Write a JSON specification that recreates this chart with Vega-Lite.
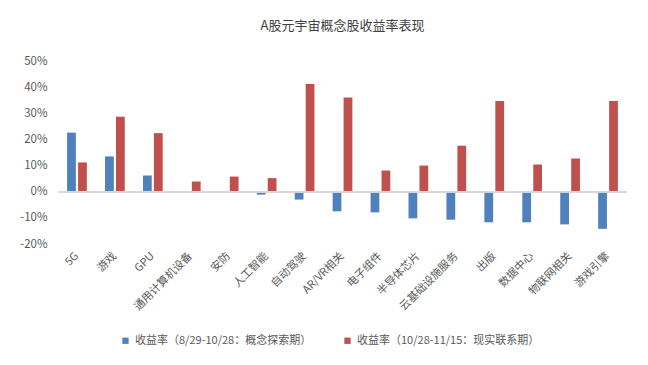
{
  "$schema": "https://vega.github.io/schema/vega-lite/v6.json",
  "autosize": {"type": "none"},
  "width": 569,
  "height": 183,
  "padding": {"left": 58, "top": 61, "right": 21, "bottom": 121},
  "background": "white",
  "title": {
    "text": "A股元宇宙概念股收益率表现",
    "font": "Noto Sans CJK SC",
    "fontSize": 13,
    "fontWeight": "normal",
    "color": "#404040",
    "offset": 22,
    "anchor": "middle"
  },
  "config": {
    "view": {"stroke": null},
    "font": "Noto Sans CJK SC",
    "axisY": {
      "domain": false, "ticks": false, "grid": false,
      "values": [-20, -10, 0, 10, 20, 30, 40, 50],
      "labelExpr": "datum.value + '%'",
      "labelOverlap": false, "labelFlush": false,
      "labelPadding": 11, "labelFontSize": 11.5, "labelColor": "#595959",
      "labelFont": "Noto Sans CJK SC", "title": null
    }
  },
  "data": {
    "values": [
      {"cat": "5G", "series": "收益率（8/29-10/28：概念探索期）", "value": 22.6},
      {"cat": "5G", "series": "收益率（10/28-11/15：现实联系期）", "value": 11.2},
      {"cat": "游戏", "series": "收益率（8/29-10/28：概念探索期）", "value": 13.5},
      {"cat": "游戏", "series": "收益率（10/28-11/15：现实联系期）", "value": 28.7},
      {"cat": "GPU", "series": "收益率（8/29-10/28：概念探索期）", "value": 6.2},
      {"cat": "GPU", "series": "收益率（10/28-11/15：现实联系期）", "value": 22.4},
      {"cat": "通用计算机设备", "series": "收益率（8/29-10/28：概念探索期）", "value": 0},
      {"cat": "通用计算机设备", "series": "收益率（10/28-11/15：现实联系期）", "value": 3.9},
      {"cat": "安防", "series": "收益率（8/29-10/28：概念探索期）", "value": 0},
      {"cat": "安防", "series": "收益率（10/28-11/15：现实联系期）", "value": 5.8},
      {"cat": "人工智能", "series": "收益率（8/29-10/28：概念探索期）", "value": -1.1},
      {"cat": "人工智能", "series": "收益率（10/28-11/15：现实联系期）", "value": 5.2},
      {"cat": "自动驾驶", "series": "收益率（8/29-10/28：概念探索期）", "value": -3.0},
      {"cat": "自动驾驶", "series": "收益率（10/28-11/15：现实联系期）", "value": 41.2},
      {"cat": "AR/VR相关", "series": "收益率（8/29-10/28：概念探索期）", "value": -7.5},
      {"cat": "AR/VR相关", "series": "收益率（10/28-11/15：现实联系期）", "value": 36.0},
      {"cat": "电子组件", "series": "收益率（8/29-10/28：概念探索期）", "value": -7.9},
      {"cat": "电子组件", "series": "收益率（10/28-11/15：现实联系期）", "value": 8.1},
      {"cat": "半导体芯片", "series": "收益率（8/29-10/28：概念探索期）", "value": -10.2},
      {"cat": "半导体芯片", "series": "收益率（10/28-11/15：现实联系期）", "value": 10.0},
      {"cat": "云基础设施服务", "series": "收益率（8/29-10/28：概念探索期）", "value": -10.7},
      {"cat": "云基础设施服务", "series": "收益率（10/28-11/15：现实联系期）", "value": 17.6},
      {"cat": "出版", "series": "收益率（8/29-10/28：概念探索期）", "value": -11.7},
      {"cat": "出版", "series": "收益率（10/28-11/15：现实联系期）", "value": 34.7},
      {"cat": "数据中心", "series": "收益率（8/29-10/28：概念探索期）", "value": -11.7},
      {"cat": "数据中心", "series": "收益率（10/28-11/15：现实联系期）", "value": 10.4},
      {"cat": "物联网相关", "series": "收益率（8/29-10/28：概念探索期）", "value": -12.5},
      {"cat": "物联网相关", "series": "收益率（10/28-11/15：现实联系期）", "value": 12.7},
      {"cat": "游戏引擎", "series": "收益率（8/29-10/28：概念探索期）", "value": -14.2},
      {"cat": "游戏引擎", "series": "收益率（10/28-11/15：现实联系期）", "value": 34.7}
    ]
  },
  "layer": [
    {
      "mark": {"type": "bar"},
      "encoding": {
        "x": {
          "field": "cat", "type": "nominal", "sort": null, "title": null,
          "scale": {"paddingInner": 0.48, "paddingOuter": 0.24},
          "axis": {
            "domain": false, "ticks": false, "grid": false,
            "labelAngle": -45, "labelAlign": "right", "labelBaseline": "middle",
            "labelPadding": 10, "labelFontSize": 11, "labelColor": "#595959",
            "labelFont": "Noto Sans CJK SC", "labelOverlap": false
          }
        },
        "xOffset": {
          "field": "series", "type": "nominal", "sort": null,
          "scale": {"paddingInner": 0.2}
        },
        "y": {
          "field": "value", "type": "quantitative", "title": null,
          "scale": {"domain": [-20, 50], "nice": false},
          "axis": {"values": [-20, -10, 0, 10, 20, 30, 40, 50], "labelOverlap": false}
        },
        "color": {
          "field": "series", "type": "nominal", "sort": null,
          "scale": {"range": ["#4F81BD", "#C0504D"]},
          "legend": {
            "title": null, "orient": "none", "direction": "horizontal",
            "legendX": 62, "legendY": 274,
            "symbolType": "square", "symbolSize": 40,
            "symbolStrokeWidth": 0,
            "labelFontSize": 11, "labelColor": "#595959",
            "labelFont": "Noto Sans CJK SC",
            "columnPadding": 30, "labelLimit": 300, "symbolOffset": 0
          }
        }
      }
    },
    {
      "mark": {"type": "rule", "color": "#d9d9d9", "strokeWidth": 1},
      "encoding": {
        "y": {"datum": 0, "type": "quantitative",
              "axis": {"values": [-20, -10, 0, 10, 20, 30, 40, 50], "labelOverlap": false}}
      }
    }
  ]
}
